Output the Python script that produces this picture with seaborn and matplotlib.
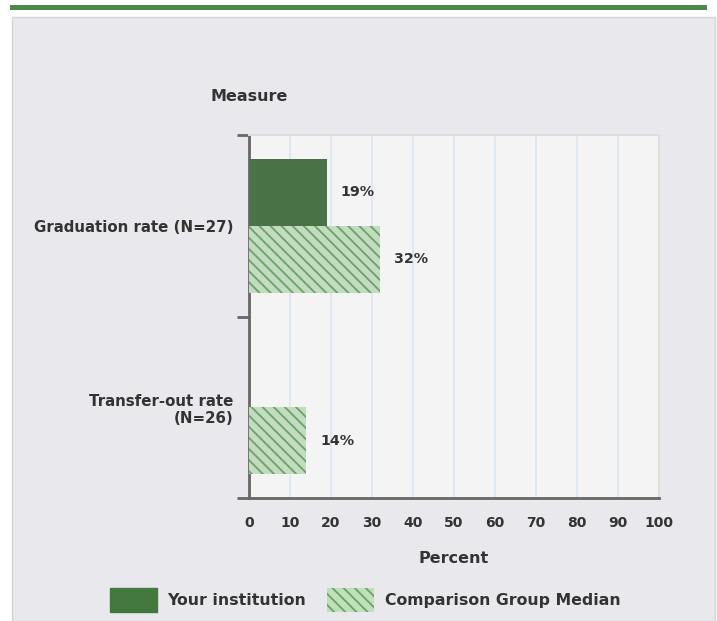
import seaborn as sns
import pandas as pd, numpy as np
import matplotlib.pyplot as plt
from matplotlib.patches import Patch, Rectangle

measures = ["Graduation rate (N=27)", "Transfer-out rate\n(N=26)"]
groups = ["Your institution", "Comparison Group Median"]
inst_vals = [19, None]   # no institution value for transfer-out
comp_vals = [32, 14]
x_ticks = [0, 10, 20, 30, 40, 50, 60, 70, 80, 90, 100]

rows = []
for m, a, b in zip(measures, inst_vals, comp_vals):
    if a is not None:
        rows.append({"measure": m, "group": groups[0], "pct": a})
    rows.append({"measure": m, "group": groups[1], "pct": b})
df = pd.DataFrame(rows)

dark = "#43793f"
light = "#bfe0bb"
hatchc = "#68a463"
txt = "#333333"

sns.set_style("white")
plt.rcParams["font.family"] = ["DejaVu Sans"]
plt.rcParams["hatch.linewidth"] = 1.3

fig = plt.figure(figsize=(7.17, 6.21), dpi=100, facecolor="white")
# grey panel and green strip at top
fig.patches.append(Rectangle((12/717, 0), 703/717, 1 - 17/621, transform=fig.transFigure,
                             facecolor="#e9e9ed", edgecolor="#d4d4d4", lw=1, zorder=-5))
fig.patches.append(Rectangle((10/717, 1 - 10/621), 697/717, 5/621, transform=fig.transFigure,
                             facecolor="#4b8a4b", edgecolor="none", zorder=-5))

ax = fig.add_axes([249/717, 1 - 498/621, 410/717, 363/621])
ax.set_facecolor("#f4f4f4")

sns.barplot(data=df, x="pct", y="measure", hue="group", hue_order=groups, order=measures,
            orient="h", palette=[dark, light], width=0.74, ax=ax, legend=False, zorder=3)

for bar in ax.containers[0]:
    bar.set_linewidth(0)
for bar in ax.containers[1]:
    bar.set_hatch("\\\\\\")
    bar.set_edgecolor(hatchc)
    bar.set_linewidth(0)

for cont in ax.containers:
    ax.bar_label(cont, fmt="%d%%", padding=10, fontsize=10.3, fontweight="bold", color=txt)

ax.set_xlim(0, 100)
ax.set_ylim(1.5, -0.5)
ax.set_xticks(x_ticks)
ax.set_xticklabels([str(t) for t in x_ticks], fontsize=10, fontweight="bold", color=txt)
ax.tick_params(axis="x", length=0, pad=13)
ax.set_yticks(range(len(measures)))
ax.set_yticklabels(measures, fontsize=10.8, fontweight="bold", color=txt, ha="right")
ax.tick_params(axis="y", which="major", left=False, length=0, pad=11)
ax.set_yticks([-0.5, 0.5, 1.5], minor=True)
ax.tick_params(axis="y", which="minor", left=True, length=9, width=2, color="#666666")

ax.grid(axis="x", color="#dbe5f2", lw=1.2, zorder=0)
ax.set_axisbelow(True)

for s in ["top", "right"]:
    ax.spines[s].set_color("#dddddd")
    ax.spines[s].set_linewidth(1.5)
for s in ["left", "bottom"]:
    ax.spines[s].set_color("#666666")
    ax.spines[s].set_linewidth(2)

ax.set_xlabel("Percent", fontsize=11.5, fontweight="bold", color=txt, labelpad=15)
ax.set_ylabel("Measure", fontsize=11.5, fontweight="bold", color=txt, rotation=0,
              ha="center", va="center")
ax.yaxis.set_label_coords(0.0, 1.107)

handles = [Patch(facecolor=dark, edgecolor=dark),
           Patch(facecolor=light, edgecolor=hatchc, hatch="\\\\\\", lw=0)]
leg = fig.legend(handles, groups, loc="center", bbox_to_anchor=(365/717, 1 - 600/621), ncol=2,
                 frameon=False, handlelength=3.0, handleheight=1.9, columnspacing=1.3,
                 handletextpad=0.7, prop={"size": 11.3, "weight": "bold"})
for t in leg.get_texts():
    t.set_color(txt)

fig.savefig("out.png", dpi=100)
